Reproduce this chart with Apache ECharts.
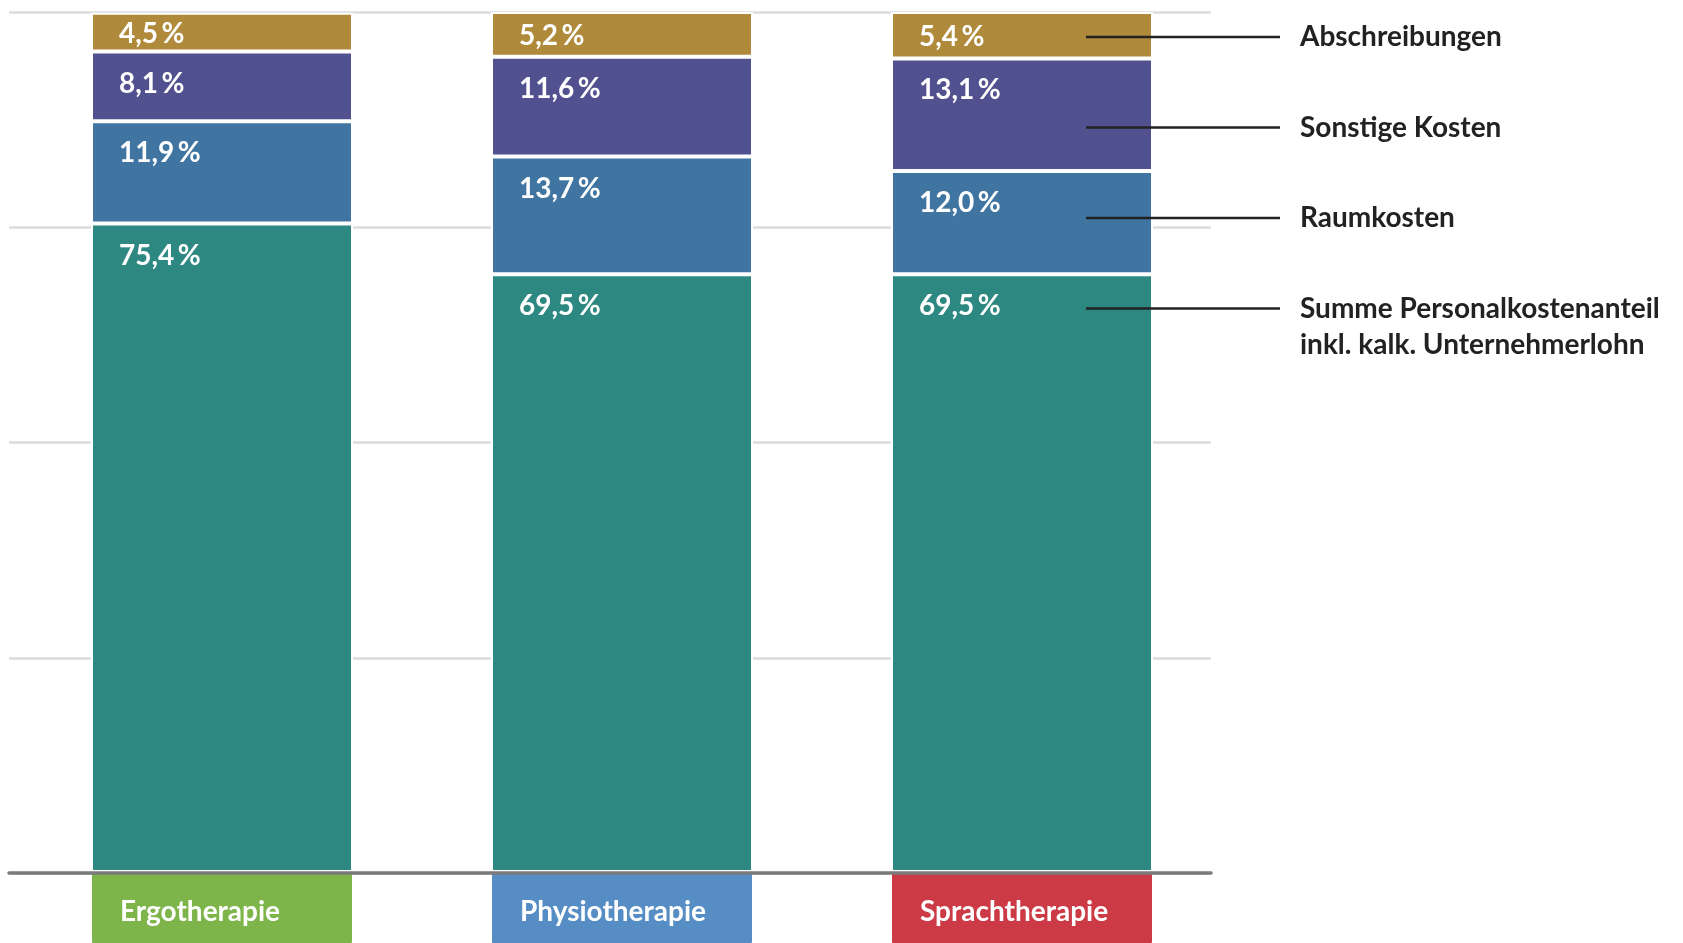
<!DOCTYPE html>
<html>
<head>
<meta charset="utf-8">
<script src="https://cdn.jsdelivr.net/npm/echarts@6/dist/echarts.min.js"></script>
<style>
html,body{margin:0;padding:0;background:#fff;}
#chart{width:1683px;height:943px;}
</style>
</head>
<body>
<div id="chart"></div>
<script>
// ---- data ----
const categories = ['Ergotherapie', 'Physiotherapie', 'Sprachtherapie'];
const personalkosten = [75.4, 69.5, 69.5];
const raumkosten = [11.9, 13.7, 12.0];
const sonstigeKosten = [8.1, 11.6, 13.1];
const abschreibungen = [4.5, 5.2, 5.4];
const seriesNames = [
  'Summe Personalkostenanteil\ninkl. kalk. Unternehmerlohn',
  'Raumkosten',
  'Sonstige Kosten',
  'Abschreibungen'
];
const yMin = 0, yMax = 100, yInterval = 25;

// ---- styles ----
const FONT = 'Lato';
const FS = 28;
const segColors = ['#2e8882', '#4075a1', '#51518f', '#ae8a3a'];
const catColors = ['#7db54b', '#568dc4', '#cb3a45'];
const richKeys = ['c0', 'c1', 'c2'];

const fmt = v => v.toFixed(1).replace('.', ',') + '\u2009%';

function barSeries(name, data, color, isTop) {
  return {
    name: name,
    type: 'bar',
    stack: 'total',
    xAxisIndex: 1,
    yAxisIndex: 1,
    barWidth: 262,
    data: data,
    itemStyle: { color: color, borderColor: '#ffffff', borderWidth: 2 },
    label: {
      show: true,
      position: isTop ? 'insideLeft' : 'insideTopLeft',
      distance: isTop ? 28 : 0,
      offset: isTop ? [0, 2] : [28, 18],
      formatter: p => fmt(p.value),
      color: '#ffffff',
      fontFamily: FONT,
      fontWeight: 'bold',
      fontSize: FS,
      lineHeight: FS
    },
    emphasis: { disabled: true }
  };
}

const rich = {};
richKeys.forEach((k, i) => {
  rich[k] = {
    backgroundColor: catColors[i],
    color: '#ffffff',
    fontFamily: FONT,
    fontWeight: 'bold',
    fontSize: FS,
    width: 232,
    height: 66,
    padding: [6, 0, 0, 28],
    borderRadius: [0, 0, 4, 4],
    align: 'left'
  };
});

const chart = echarts.init(document.getElementById('chart'), null, { renderer: 'canvas' });

const option = {
  animation: false,
  backgroundColor: '#ffffff',
  grid: [
    { left: 9, right: 1683 - 1211, top: 12, bottom: 943 - 873, containLabel: false, outerBoundsMode: 'none' },
    { left: 22, right: 1683 - 1222, top: 12, bottom: 943 - 872, containLabel: false, outerBoundsMode: 'none' }
  ],
  xAxis: [
    {
      gridIndex: 0, type: 'value', min: 0, max: 1, z: 10,
      axisLine: { show: true, lineStyle: { color: '#7a7a7a', width: 3.5 } },
      axisTick: { show: false }, axisLabel: { show: false }, splitLine: { show: false }
    },
    {
      gridIndex: 1, type: 'category', data: categories,
      axisLine: { show: false }, axisTick: { show: false },
      axisLabel: {
        margin: 1,
        formatter: (v, i) => '{' + richKeys[i] + '|' + v + '}',
        rich: rich
      }
    }
  ],
  yAxis: [
    {
      gridIndex: 0, type: 'value', min: yMin, max: yMax, interval: yInterval,
      axisLine: { show: false }, axisTick: { show: false }, axisLabel: { show: false },
      splitLine: { show: true, lineStyle: { color: '#dcdcdc', width: 2.5 } }
    },
    {
      gridIndex: 1, type: 'value', min: yMin, max: yMax, interval: yInterval,
      axisLine: { show: false }, axisTick: { show: false }, axisLabel: { show: false },
      splitLine: { show: false }
    }
  ],
  series: [
    barSeries(seriesNames[0], personalkosten, segColors[0], false),
    barSeries(seriesNames[1], raumkosten, segColors[1], false),
    barSeries(seriesNames[2], sonstigeKosten, segColors[2], false),
    barSeries(seriesNames[3], abschreibungen, segColors[3], true)
  ]
};
chart.setOption(option);

// ---- annotation legend (leader lines + names), top to bottom ----
const legendOrder = [3, 2, 1, 0];
const legendY0 = 37, legendStep = 90.5, lineX1 = 1086, lineX2 = 1280, textX = 1300, lh = 36.5;
const graphics = [];
legendOrder.forEach((si, k) => {
  const y = legendY0 + k * legendStep;
  graphics.push({
    type: 'line', z: 20,
    shape: { x1: lineX1, y1: y, x2: lineX2, y2: y },
    style: { stroke: '#222222', lineWidth: 2.5 }
  });
  graphics.push({
    type: 'text', z: 20, x: textX, y: y - lh / 2,
    style: {
      text: seriesNames[si], fill: '#222222', fontFamily: FONT, fontWeight: 'bold',
      fontSize: FS, lineHeight: lh, verticalAlign: 'top', align: 'left'
    }
  });
});
chart.setOption({ graphic: graphics });
</script>
</body>
</html>
